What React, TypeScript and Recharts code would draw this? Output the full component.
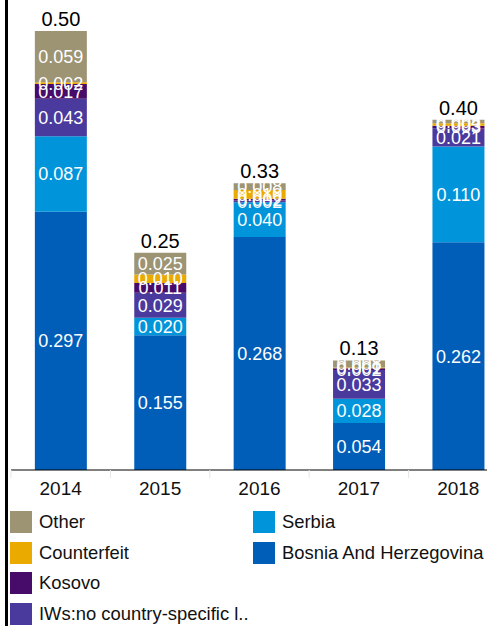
import React from "react";
import { BarChart, Bar, XAxis, YAxis, LabelList } from "recharts";

const years = ["2014", "2015", "2016", "2017", "2018"];
const bosnia = [0.297, 0.155, 0.268, 0.054, 0.262];
const serbia = [0.087, 0.02, 0.04, 0.028, 0.11];
const iws = [0.043, 0.029, 0.002, 0.033, 0.021];
const kosovo = [0.017, 0.011, 0.002, 0.002, 0.003];
const counterfeit = [0.002, 0.01, 0.01, 0.001, 0.003];
const other = [0.059, 0.025, 0.008, 0.008, 0.004];
const totalLabels = ["0.50", "0.25", "0.33", "0.13", "0.40"];

const series = [
  { key: "bosnia", name: "Bosnia And Herzegovina", color: "#005EB8", values: bosnia },
  { key: "serbia", name: "Serbia", color: "#0095DA", values: serbia },
  { key: "iws", name: "IWs:no country-specific l..", color: "#4A3A9D", values: iws },
  { key: "kosovo", name: "Kosovo", color: "#470B69", values: kosovo },
  { key: "counterfeit", name: "Counterfeit", color: "#EBAA00", values: counterfeit },
  { key: "other", name: "Other", color: "#9D9474", values: other },
];

const data = years.map((y, i) => {
  const row: any = { year: y, total: totalLabels[i] };
  series.forEach((s) => (row[s.key] = s.values[i]));
  return row;
});

const legendCol1 = ["other", "counterfeit", "kosovo", "iws"];
const legendCol2 = ["serbia", "bosnia"];

const FONT = "'Liberation Sans', Arial, sans-serif";
const CHART_W = 508;
const LEFT = 11;
const BAND = (CHART_W - LEFT) / years.length;

const Tick = (props: any) => {
  const { x, y, payload } = props;
  return (
    <g>
      <line x1={x - BAND / 2} x2={x - BAND / 2} y1={y - 8} y2={y} stroke="#e6e6e6" />
      <text x={x} y={y + 17} textAnchor="middle" fontSize={19} fill="#111" fontFamily={FONT}>
        {payload.value}
      </text>
    </g>
  );
};

const LegendItem = ({ s, left, top }: any) => (
  <div style={{ position: "absolute", left, top, display: "flex", alignItems: "center", height: 22 }}>
    <div style={{ width: 22, height: 22, background: s.color, flex: "none" }} />
    <span style={{ marginLeft: 7, fontSize: 18.4, color: "#111", fontFamily: FONT, whiteSpace: "nowrap" }}>
      {s.name}
    </span>
  </div>
);

export default function App() {
  const byKey: any = {};
  series.forEach((s) => (byKey[s.key] = s));
  return (
    <div style={{ position: "fixed", left: 0, top: 0, width: 487, height: 626, overflow: "hidden", background: "#fff" }}>
      <div style={{ position: "absolute", left: 5, top: 0, width: 3, height: 626, background: "#000" }} />
      <div style={{ position: "absolute", left: 0, top: 0 }}>
        <BarChart
          width={CHART_W}
          height={626}
          data={data}
          margin={{ top: 31, right: 0, bottom: 116, left: LEFT }}
          barCategoryGap="24%"
        >
          <YAxis hide domain={[0, "dataMax"]} />
          <XAxis
            dataKey="year"
            height={40}
            axisLine={{ stroke: "#000" }}
            tickLine={false}
            tick={<Tick />}
            interval={0}
          />
          {series.map((s) => (
            <Bar key={s.key} dataKey={s.key} stackId="a" fill={s.color} isAnimationActive={false}>
              <LabelList
                dataKey={s.key}
                position="center"
                fill="#fff"
                fontSize={18}
                fontFamily={FONT}
                formatter={(v: any) => Number(v).toFixed(3)}
              />
              {s.key === "other" && (
                <LabelList dataKey="total" position="top" offset={5} fill="#000" fontSize={20} fontFamily={FONT} />
              )}
            </Bar>
          ))}
        </BarChart>
      </div>
      {legendCol1.map((k, i) => (
        <LegendItem key={k} s={byKey[k]} left={10} top={511 + i * 30.7} />
      ))}
      {legendCol2.map((k, i) => (
        <LegendItem key={k} s={byKey[k]} left={253} top={511 + i * 30.7} />
      ))}
    </div>
  );
}
